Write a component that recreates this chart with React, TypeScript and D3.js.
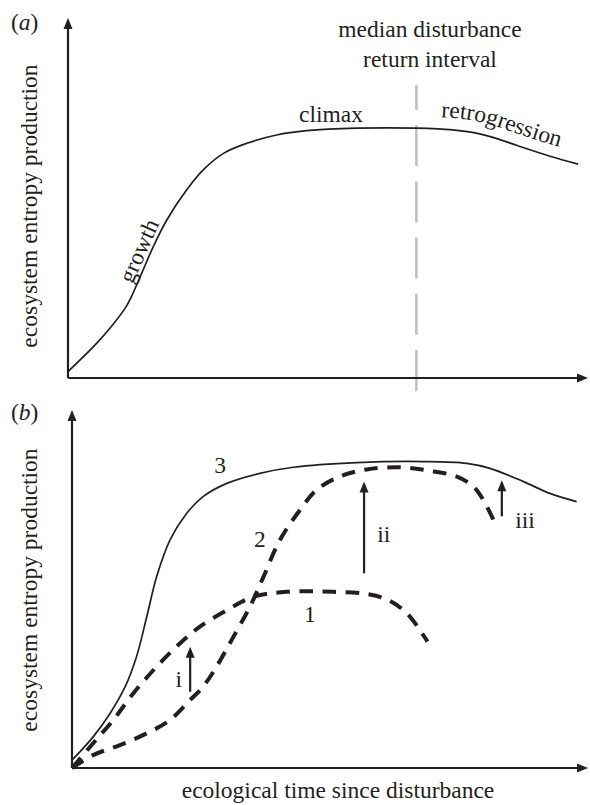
import React from "react";
import * as d3 from "d3";

// Panel (a): single trajectory [time, entropy production] (0–100 arbitrary units)
const curveA: [number, number][] = [
  [0, 1.8], [4.9, 8.7], [8.1, 13.9], [11.0, 19.4], [12.2, 22.6], [14.2, 29.2],
  [16.4, 36.5], [19.0, 43.9], [22.8, 52.2], [26.0, 57.8], [29.9, 62.4],
  [34.4, 65.2], [40.1, 67.5], [45.9, 68.7], [55.6, 69.4], [67.1, 69.4],
  [74.0, 68.9], [78.5, 68.0], [82.5, 66.5], [86.5, 64.5], [92.7, 61.6], [98.1, 59.4],
];
const medianReturn = 67;

// Panel (b)
const curve3: [number, number][] = [
  [0, 2.2], [4.1, 8.7], [7.4, 15.3], [10.3, 22.7], [12.5, 31.1], [14.5, 42.3],
  [16.4, 53.4], [19.0, 63.7], [22.2, 71.1], [25.4, 75.8], [30.0, 79.5],
  [36.4, 82.3], [42.9, 84.0], [55.2, 85.3], [68.1, 85.6], [76.5, 85.1],
  [81.0, 83.7], [87.5, 80.0], [92.6, 76.7], [97.8, 74.4],
];
const curve1: [number, number][] = [
  [0, 0], [4.1, 6.9], [8.0, 13.4], [11.9, 20.9], [16.4, 28.3], [20.9, 34.8],
  [24.8, 39.5], [30.0, 44.1], [35.1, 47.8], [41.6, 49.2], [50.6, 49.2],
  [57.1, 48.6], [61.0, 47.1], [64.9, 43.2], [68.9, 35.3],
];
const curve2: [number, number][] = [
  [0, 0], [4.1, 3.6], [9.3, 6.4], [14.5, 9.7], [19.0, 13.4], [22.9, 19.0],
  [25.4, 22.7], [28.0, 28.3], [31.3, 36.7], [34.5, 45.1], [37.1, 53.4],
  [40.3, 63.7], [44.2, 72.1], [47.4, 77.7], [51.9, 81.4], [57.1, 83.4],
  [63.6, 84.0], [69.4, 83.0], [74.6, 81.4], [77.8, 78.6], [79.7, 74.9], [82.3, 67.4],
];
// arrows: [x, yFrom, yTo]
const arrowNames = ["i", "ii", "iii"];
const arrowData: [number, number, number][] = [
  [22.9, 21.3, 33.9],
  [56.6, 54.4, 80.0],
  [83.3, 70.3, 80.4],
];
const arrowLabelPos: [number, number][] = [[20.7, 22.6], [60.4, 63.1], [87.8, 67.0]];
const curveLabels = ["1", "2", "3"];
const curveLabelPos: [number, number][] = [[46.1, 40.8], [36.4, 61.7], [28.7, 82.4]];

const FONT = "'Liberation Serif', 'Times New Roman', serif";
const FS = 23.5;
const INK = "#231f20";

export default function App() {
  const W = 590, H = 805;
  const xa = d3.scaleLinear().domain([0, 100]).range([68, 588]);
  const ya = d3.scaleLinear().domain([0, 100]).range([378, 18]);
  const xb = d3.scaleLinear().domain([0, 100]).range([72, 588]);
  const yb = d3.scaleLinear().domain([0, 100]).range([768, 410]);

  const lineA = d3.line<[number, number]>().x(d => xa(d[0])).y(d => ya(d[1])).curve(d3.curveCatmullRom.alpha(0.5));
  const lineB = d3.line<[number, number]>().x(d => xb(d[0])).y(d => yb(d[1])).curve(d3.curveCatmullRom.alpha(0.5));
  const retroPath = d3.line<[number, number]>().x(d => xa(d[0])).y(d => ya(d[1]) - 12).curve(d3.curveCatmullRom.alpha(0.5))(
    curveA.filter(d => d[0] >= 67)
  ) as string;

  const axisArrow = (x0: number, y0: number, x1: number, y1: number) => {
    const horiz = y0 === y1;
    const head = horiz
      ? `M${x1},${y1} L${x1 - 11},${y1 - 4.5} L${x1 - 11},${y1 + 4.5} Z`
      : `M${x1},${y1} L${x1 - 4.5},${y1 + 11} L${x1 + 4.5},${y1 + 11} Z`;
    return (
      <g>
        <line x1={x0} y1={y0} x2={horiz ? x1 - 8 : x1} y2={horiz ? y1 : y1 + 8} stroke={INK} strokeWidth={2.2} />
        <path d={head} fill={INK} />
      </g>
    );
  };

  return (
    <svg width={W} height={H} style={{ display: "block", position: "absolute", left: 0, top: 0, background: "#fff" }} fontFamily={FONT}>
      {/* Panel a */}
      <text x={11} y={30} fontSize={FS} fill={INK}>(<tspan fontStyle="italic">a</tspan>)</text>
      <text transform={`translate(37,206) rotate(-90)`} textAnchor="middle" fontSize={FS} fill={INK}>ecosystem entropy production</text>
      <line x1={xa(medianReturn)} x2={xa(medianReturn)} y1={85} y2={392} stroke="#c0c0c0" strokeWidth={2.6} strokeDasharray="41 15.2" strokeDashoffset={16} />
      {axisArrow(xa(0), ya(0), xa(0), 18)}
      {axisArrow(xa(0), ya(0), 588, ya(0))}
      <path d={lineA(curveA) as string} fill="none" stroke={INK} strokeWidth={1.7} />
      <text x={430} y={37} textAnchor="middle" fontSize={FS} fill={INK}>median disturbance</text>
      <text x={430} y={67} textAnchor="middle" fontSize={FS} fill={INK}>return interval</text>
      <text x={331} y={122} textAnchor="middle" fontSize={FS} fill={INK}>climax</text>
      <path id="retroPath" d={retroPath} fill="none" stroke="none" />
      <text fontSize={FS} fill={INK}><textPath href="#retroPath" startOffset={24}>retrogression</textPath></text>
      <text transform={`translate(146,254) rotate(-66)`} textAnchor="middle" fontSize={FS} fill={INK}>growth</text>

      {/* Panel b */}
      <text x={11} y={420} fontSize={FS} fill={INK}>(<tspan fontStyle="italic">b</tspan>)</text>
      <text transform={`translate(37,590) rotate(-90)`} textAnchor="middle" fontSize={FS} fill={INK}>ecosystem entropy production</text>
      {axisArrow(xb(0), yb(0), xb(0), 410)}
      {axisArrow(xb(0), yb(0), 588, yb(0))}
      <path d={lineB(curve3) as string} fill="none" stroke={INK} strokeWidth={1.7} />
      <path d={lineB(curve1) as string} fill="none" stroke={INK} strokeWidth={4} strokeDasharray="13.5 9.5" />
      <path d={lineB(curve2) as string} fill="none" stroke={INK} strokeWidth={4} strokeDasharray="13.5 9.5" />
      {arrowData.map((a, i) => {
        const x = xb(a[0]), y0 = yb(a[1]), y1 = yb(a[2]);
        return (
          <g key={i}>
            <line x1={x} x2={x} y1={y0} y2={y1 + 8} stroke={INK} strokeWidth={2.2} />
            <path d={`M${x},${y1} L${x - 4.5},${y1 + 11} L${x + 4.5},${y1 + 11} Z`} fill={INK} />
          </g>
        );
      })}
      {arrowNames.map((l, i) => (
        <text key={l} x={xb(arrowLabelPos[i][0])} y={yb(arrowLabelPos[i][1])} textAnchor="middle" fontSize={FS} fill={INK}>{l}</text>
      ))}
      {curveLabels.map((l, i) => (
        <text key={l} x={xb(curveLabelPos[i][0])} y={yb(curveLabelPos[i][1])} textAnchor="middle" fontSize={FS} fill={INK}>{l}</text>
      ))}
      <text x={338} y={798} textAnchor="middle" fontSize={FS} fill={INK}>ecological time since disturbance</text>
    </svg>
  );
}
